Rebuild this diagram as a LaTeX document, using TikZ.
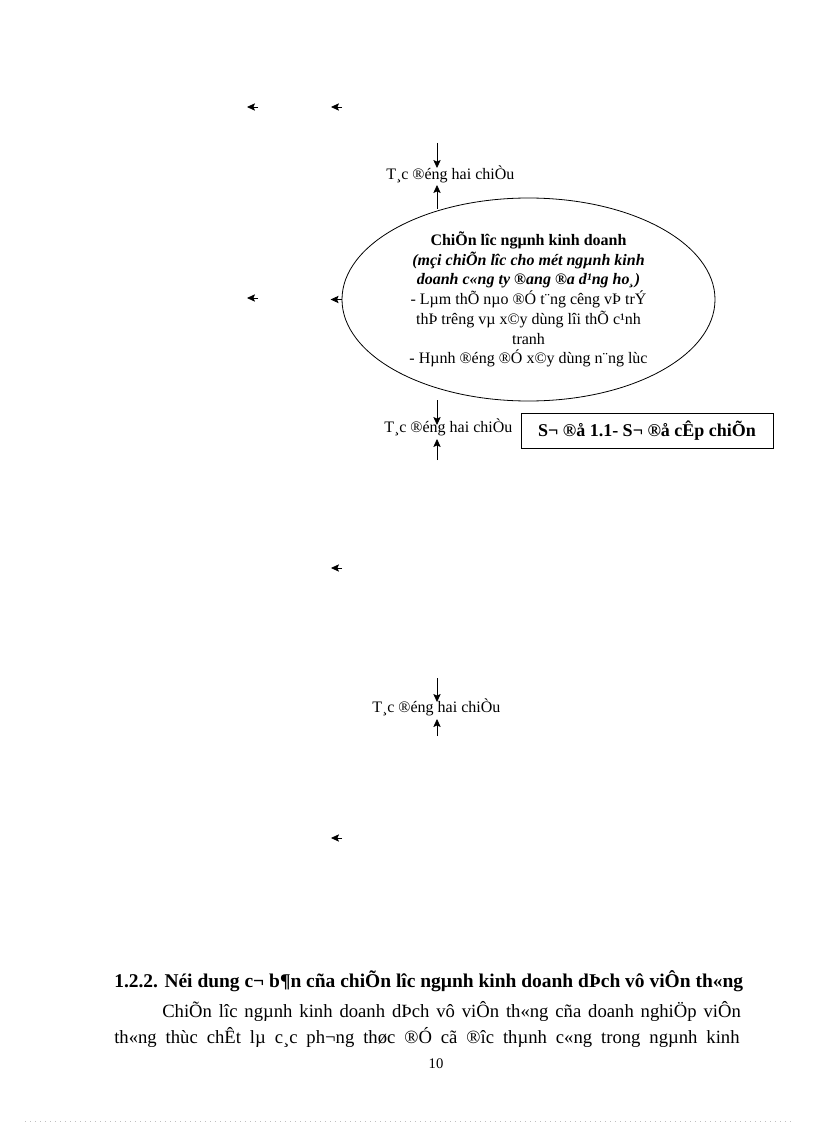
\documentclass[tikz,border=0pt]{standalone}
\usepackage{fontspec}
\setmainfont{Liberation Serif}
\usetikzlibrary{arrows.meta}
\usetikzlibrary{shapes.geometric}

\begin{document}
\begin{tikzpicture}[x=0.75pt, y=-0.75pt,
    tip/.style={-{Stealth[length=6pt,width=5.5pt,inset=1.2pt]}, line width=0.6pt},
    tlabel/.style={anchor=base west, inner sep=0pt, font=\fontsize{12}{14}\selectfont},
    bodyline/.style={anchor=base west, inner sep=0pt, font=\fontsize{14}{17}\selectfont}]
      \useasboundingbox (0,0) rectangle (816,1123);

      \node[ellipse, draw, line width=0.6pt, inner sep=0pt, minimum width=279.75pt, minimum height=152.25pt,
        align=center, font=\fontsize{12}{14.8}\selectfont] (strat) at (528.5,299.5)
        {{\bfseries ChiÕn lîc ngµnh kinh doanh}\\
         {\bfseries\itshape (mçi chiÕn lîc cho mét ngµnh kinh}\\
         {\bfseries\itshape doanh c«ng ty ®ang ®a d¹ng ho¸)}\\
         - Lµm thÕ nµo ®Ó t¨ng cêng vÞ trÝ\\
         thÞ trêng vµ x©y dùng lîi thÕ c¹nh\\
         tranh\\
         - Hµnh ®éng ®Ó x©y dùng n¨ng lùc};

      \node[tlabel] (tc1) at (386,180) {T¸c ®éng hai chiÒu};
      \node[tlabel] (tc2) at (384,432) {T¸c ®éng hai chiÒu};
      \node[tlabel] (tc3) at (372,712) {T¸c ®éng hai chiÒu};

      \node[draw, line width=0.6pt, inner sep=0pt, minimum width=189pt, minimum height=26.25pt,
        font=\fontsize{13.5}{16}\selectfont\bfseries] (caption) at (647,430.5) {S¬ ®å 1.1- S¬ ®å cÊp chiÕn};

      \coordinate (d1a) at (437,143);
      \coordinate (d1b) at (437,168);
      \coordinate (u1a) at (437,209);
      \coordinate (u1b) at (437,185);
      \coordinate (d2a) at (437,400);
      \coordinate (d2b) at (437,425);
      \coordinate (u2a) at (437,460);
      \coordinate (u2b) at (437,439);
      \coordinate (d3a) at (437,678);
      \coordinate (d3b) at (437,702);
      \coordinate (u3a) at (437,736);
      \coordinate (u3b) at (437,719);

      \draw[tip] (d1a) -- (d1b);
      \draw[tip] (u1a) -- (u1b);
      \draw[tip] (d2a) -- (d2b);
      \draw[tip] (u2a) -- (u2b);
      \draw[tip] (d3a) -- (d3b);
      \draw[tip] (u3a) -- (u3b);

      \coordinate (h1) at (258,107);
      \coordinate (h2) at (342,107);
      \coordinate (h3) at (258,298);
      \coordinate (h4) at (342,568);
      \coordinate (h5) at (342,838);

      \draw[tip] (h1) -- ++(-11,0);
      \draw[tip] (h2) -- ++(-11,0);
      \draw[tip] (h3) -- ++(-11,0);
      \draw[tip] (strat.west) -- ++(-11,0);
      \draw[tip] (h4) -- ++(-11,0);
      \draw[tip] (h5) -- ++(-11,0);

      \node[bodyline, font=\fontsize{14.6}{17}\selectfont\bfseries] (head) at (114,987)
        {1.2.2. Néi dung c¬ b¶n cña chiÕn lîc ngµnh kinh doanh dÞch vô viÔn th«ng};
      \node[bodyline] (par1) at (162,1017)
        {\makebox[434pt][s]{ChiÕn lîc ngµnh kinh doanh dÞch vô viÔn th«ng cña doanh nghiÖp viÔn}};
      \node[bodyline] (par2) at (114,1043)
        {\makebox[469pt][s]{th«ng thùc chÊt lµ c¸c ph¬ng thøc ®Ó cã ®îc thµnh c«ng trong ngµnh kinh}};
      \node[anchor=base, inner sep=0pt, font=\fontsize{11}{13}\selectfont] (pageno) at (436,1068) {10};

      \coordinate (dl) at (25,1121);
      \coordinate (dr) at (791,1121);
      \draw[gray!50, line width=0.5pt, dash pattern=on 0.75pt off 3pt] (dl) -- (dr);
    \end{tikzpicture}
\end{document}
